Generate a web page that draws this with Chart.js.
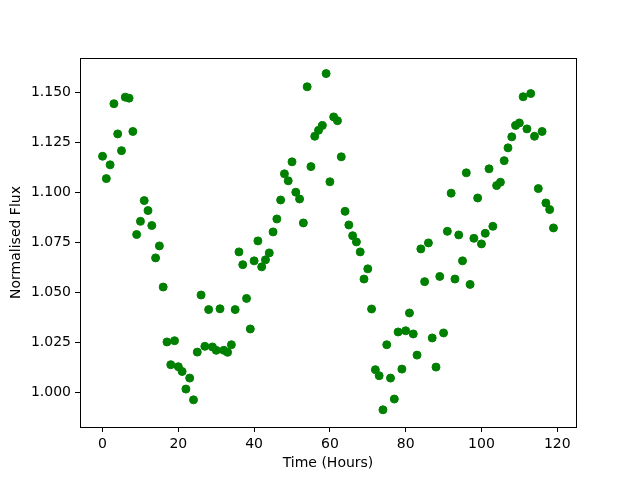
<!DOCTYPE html>
<html>
<head>
<meta charset="utf-8">
<script src="https://cdn.jsdelivr.net/npm/chart.js@4"></script>
<style>
  html, body { margin: 0; padding: 0; background: #fff; }
  #wrap { width: 640px; height: 480px; }
</style>
</head>
<body>
<div id="wrap"><canvas id="fluxChart" width="640" height="480"></canvas></div>
<script>
// Light curve: normalised flux sampled every hour
const hours = [];
for (let h = 0; h < 120; h++) hours.push(h);

const flux = [
    1.1182, 1.1070, 1.1139, 1.1445, 1.1294, 1.1210, 1.1478, 1.1473, 1.1306, 1.0790,
    1.0856, 1.0960, 1.0910, 1.0835, 1.0673, 1.0733, 1.0527, 1.0252, 1.0138, 1.0258,
    1.0128, 1.0104, 1.0016, 1.0071, 0.9962, 1.0201, 1.0487, 1.0230, 1.0414, 1.0227,
    1.0210, 1.0418, 1.0210, 1.0200, 1.0238, 1.0414, 1.0703, 1.0639, 1.0470, 1.0317,
    1.0658, 1.0758, 1.0628, 1.0663, 1.0698, 1.0803, 1.0868, 1.0963, 1.1094, 1.1059,
    1.1154, 1.1002, 1.0968, 1.0848, 1.1530, 1.1130, 1.1282, 1.1312, 1.1336, 1.1596,
    1.1054, 1.1379, 1.1360, 1.1179, 1.0906, 1.0838, 1.0784, 1.0753, 1.0703, 1.0567,
    1.0618, 1.0417, 1.0113, 1.0083, 0.9912, 1.0238, 1.0071, 0.9966, 1.0302, 1.0116,
    1.0308, 1.0397, 1.0292, 1.0186, 1.0718, 1.0554, 1.0748, 1.0272, 1.0126, 1.0580,
    1.0297, 1.0806, 1.0997, 1.0567, 1.0788, 1.0658, 1.1099, 1.0540, 1.0771, 1.0973,
    1.0743, 1.0796, 1.1119, 1.0831, 1.1035, 1.1052, 1.1160, 1.1224, 1.1279, 1.1336,
    1.1349, 1.1480, 1.1319, 1.1496, 1.1282, 1.1020, 1.1306, 1.0948, 1.0915, 1.0823
];

const xTicks = [0, 20, 40, 60, 80, 100, 120];
const yTicks = [1.000, 1.025, 1.050, 1.075, 1.100, 1.125, 1.150];

const font = { family: 'DejaVu Sans', size: 14 };

// full box around the plot area, like matplotlib spines
const frame = {
    id: 'frame',
    afterDraw(chart) {
        const { ctx, chartArea: a } = chart;
        ctx.save();
        ctx.strokeStyle = '#000';
        ctx.lineWidth = 1;
        ctx.strokeRect(Math.round(a.left) + 0.5, Math.round(a.top) + 0.5,
            Math.round(a.right - a.left), Math.round(a.bottom - a.top));
        ctx.restore();
    }
};

const ctx = document.getElementById('fluxChart').getContext('2d');
new Chart(ctx, {
    type: 'scatter',
    data: {
        datasets: [{
            label: 'Flux',
            data: hours.map((h, i) => ({ x: h, y: flux[i] })),
            backgroundColor: '#008000',
            borderColor: '#008000',
            borderWidth: 1,
            pointRadius: 4
        }]
    },
    options: {
        responsive: false,
        animation: false,
        layout: { padding: { left: 0, right: 64, top: 58, bottom: 0 } },
        plugins: {
            legend: { display: false },
            tooltip: { enabled: false }
        },
        scales: {
            x: {
                type: 'linear',
                min: -5.95,
                max: 124.95,
                afterBuildTicks: axis => { axis.ticks = xTicks.map(v => ({ value: v })); },
                afterFit: axis => { axis.height = 53; },
                grid: { drawOnChartArea: false, drawTicks: true, tickLength: 5, tickColor: '#000' },
                border: { display: false },
                ticks: { color: '#000', font, padding: 4, maxRotation: 0 },
                title: { display: true, text: 'Time (Hours)', color: '#000', font, padding: { top: 0, bottom: 8 } }
            },
            y: {
                type: 'linear',
                min: 0.9826,
                max: 1.1674,
                afterBuildTicks: axis => { axis.ticks = yTicks.map(v => ({ value: v })); },
                afterFit: axis => { axis.width = 80; },
                grid: { drawOnChartArea: false, drawTicks: true, tickLength: 5, tickColor: '#000' },
                border: { display: false },
                ticks: { color: '#000', font, padding: 4, callback: v => v.toFixed(3) },
                title: { display: true, text: 'Normalised Flux', color: '#000', font, padding: { top: 8, bottom: 0 } }
            }
        }
    },
    plugins: [frame]
});
</script>
</body>
</html>
